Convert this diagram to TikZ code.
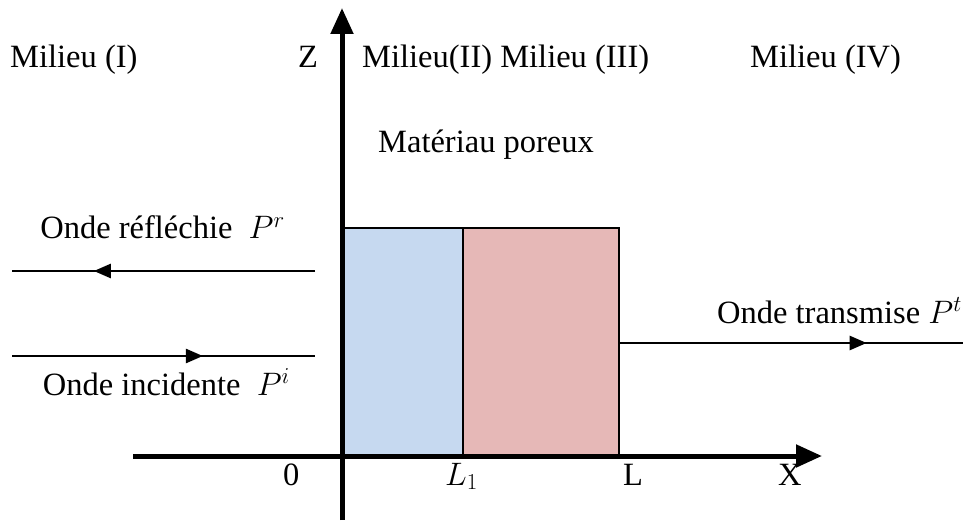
\documentclass[tikz,border=0pt]{standalone}
\usepackage{fix-cm}
\usepackage{fontspec}
\setmainfont{Liberation Serif}
\usetikzlibrary{arrows.meta,decorations.markings}
\definecolor{layerblue}{RGB}{198,217,240}
\definecolor{layerred}{RGB}{230,184,183}
\begin{document}
\begin{tikzpicture}[x=1pt,y=-1pt,
  lbl/.style={anchor=base west,inner sep=0pt,font=\fontsize{32.5}{38}\selectfont},
  axis/.style={line width=5pt,-{Triangle[length=26pt,width=22pt]}},
  layer/.style={draw=black,line width=1.5pt},
  wave/.style={line width=2.5pt},
  midarrow/.style={postaction={decorate},decoration={markings,
     mark=at position #1 with {\arrow{Triangle[length=17pt,width=14pt]}}}}
]
\useasboundingbox (0,0) rectangle (968,521);
% layers
\fill[layerblue] (342,228) rectangle (463,456);
\fill[layerred] (463,228) rectangle (619,456);
\draw[layer] (342,228) rectangle (463,456);
\draw[layer] (463,228) rectangle (619,456);
% axes
\coordinate (zb) at (342,520);
\coordinate (zt) at (342,8);
\coordinate (xl) at (133,456);
\coordinate (xr) at (822,456);
\draw[axis] (xl) -- (xr);
\draw[axis] (zb) -- (zt);
% waves
\coordinate (r1) at (315,271);
\coordinate (r2) at (12,271);
\coordinate (i1) at (12,356);
\coordinate (i2) at (315,356);
\coordinate (t1) at (619,343);
\coordinate (t2) at (963,343);
\draw[wave,midarrow=0.73] (r1) -- (r2);
\draw[wave,midarrow=0.63] (i1) -- (i2);
\draw[wave,midarrow=0.72] (t1) -- (t2);
% labels
\node[lbl] (m1) at (10,68) {Milieu (I)};
\node[lbl] (zl) at (298,68) {Z};
\node[lbl] (m23) at (362,68) {Milieu(II) Milieu (III)};
\node[lbl] (m4) at (750,68) {Milieu (IV)};
\node[lbl] (mp) at (378,153) {Matériau poreux};
\node[lbl,anchor=base east] (ref) at (285,239) {Onde réfléchie~ $P^{r}$};
\node[lbl,anchor=base east] (inc) at (290,395) {Onde incidente~ $P^{i}$};
\node[lbl,anchor=base east] (tra) at (962,323) {Onde transmise $P^{t}$};
\node[lbl] (o) at (283,485) {0};
\node[lbl] (l1) at (445,485) {$L_1$};
\node[lbl] (l) at (623,485) {L};
\node[lbl] (xx) at (778,485) {X};
\end{tikzpicture}
\end{document}
